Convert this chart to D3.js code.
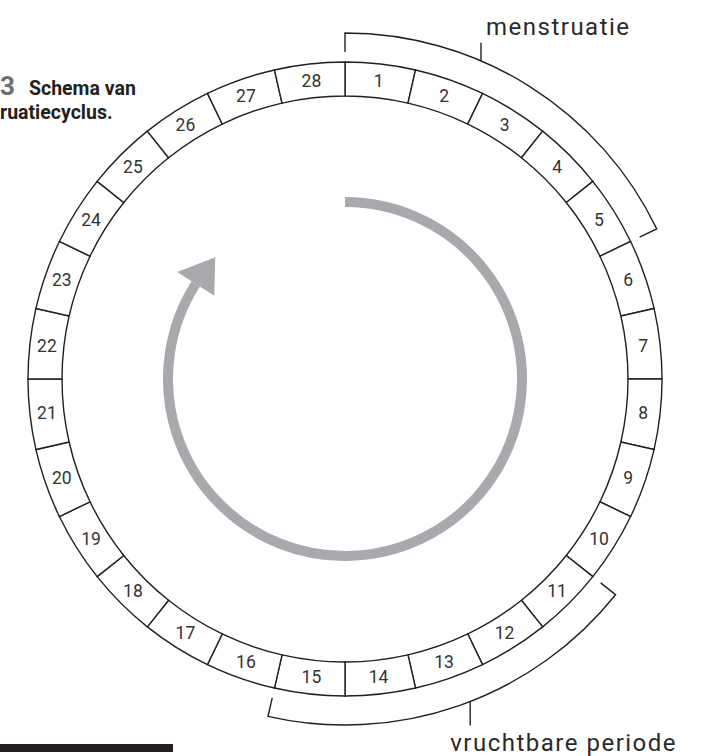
<!DOCTYPE html>
<html>
<head>
<meta charset="utf-8">
<script src="https://cdn.jsdelivr.net/npm/d3@7"></script>
<style>
  body { margin: 0; background: #fff; }
  text { font-family: Roboto, "DejaVu Sans", sans-serif; }
</style>
</head>
<body>
<div id="container"></div>
<script>
/* DATA */
const days = [1, 2, 3, 4, 5, 6, 7, 8, 9, 10, 11, 12, 13, 14,
              15, 16, 17, 18, 19, 20, 21, 22, 23, 24, 25, 26, 27, 28];
const phaseNames = ["menstruatie", "vruchtbare periode"];
const phaseFirstDay = [1, 11];
const phaseLastDay = [5, 15];
const captionNumber = "3";
const captionLines = ["Schema van", "ruatiecyclus."];

/* CONSTANTS AND GLOBALS */
const width = 712, height = 756;
const cx = 345, cy = 379;
const rInner = 283, rOuter = 317;
const rBracket = 346, bracketTick = 19;
const rArrow = 177;
const ink = "#231f20";
const arrowGrey = "#a7a9ac";

// where the pointer of each bracket sits (in day units) and how long it is
const pointerAt = [1.8, 12.35];
const pointerLen = [-18, 24];

const angle = d3.scaleLinear()
  .domain([0, days.length])
  .range([0, 2 * Math.PI]);

const polar = (r, a) => [cx + r * Math.sin(a), cy - r * Math.cos(a)];

/* HTML ELEMENTS */
const svg = d3.select("#container")
  .append("svg")
  .attr("width", width)
  .attr("height", height);

// ring of days
const ring = d3.arc()
  .innerRadius(rInner)
  .outerRadius(rOuter)
  .startAngle(d => angle(d - 1))
  .endAngle(d => angle(d));

const g = svg.append("g").attr("transform", `translate(${cx},${cy})`);

g.selectAll("path.day")
  .data(days)
  .join("path")
  .attr("class", "day")
  .attr("d", ring)
  .attr("fill", "#fff")
  .attr("stroke", ink)
  .attr("stroke-width", 1.4);

g.selectAll("text.day")
  .data(days)
  .join("text")
  .attr("class", "day")
  .attr("x", d => ring.centroid(d)[0])
  .attr("y", d => ring.centroid(d)[1])
  .attr("dy", "0.36em")
  .attr("text-anchor", "middle")
  .attr("font-size", 17.5)
  .attr("fill", "#333")
  .text(d => d);

// brackets for the phases
phaseNames.forEach((name, i) => {
  const a0 = angle(phaseFirstDay[i] - 1), a1 = angle(phaseLastDay[i]);
  const p = d3.path();
  const s0 = polar(rBracket - bracketTick, a0);
  p.moveTo(s0[0], s0[1]);
  const s1 = polar(rBracket, a0);
  p.lineTo(s1[0], s1[1]);
  p.arc(cx, cy, rBracket, a0 - Math.PI / 2, a1 - Math.PI / 2);
  const e1 = polar(rBracket - bracketTick, a1);
  p.lineTo(e1[0], e1[1]);
  svg.append("path")
    .attr("d", p.toString())
    .attr("fill", "none")
    .attr("stroke", ink)
    .attr("stroke-width", 1.4);

  const [px, py] = polar(rBracket, angle(pointerAt[i]));
  svg.append("line")
    .attr("x1", px).attr("y1", py)
    .attr("x2", px).attr("y2", py + pointerLen[i])
    .attr("stroke", ink)
    .attr("stroke-width", 1.4);

  svg.append("text")
    .attr("x", i === 0 ? px + 5 : px - 20)
    .attr("y", i === 0 ? 35 : 751)
    .attr("font-size", 24)
    .attr("letter-spacing", 1.5)
    .attr("fill", "#2a2a2a")
    .text(name);
});

// cycle arrow
const arrowEnd = 302.5 * Math.PI / 180;
const ap = d3.path();
const aStart = polar(rArrow, 0);
ap.moveTo(aStart[0], aStart[1]);
ap.arc(cx, cy, rArrow, -Math.PI / 2, arrowEnd - Math.PI / 2);
svg.append("path")
  .attr("d", ap.toString())
  .attr("fill", "none")
  .attr("stroke", arrowGrey)
  .attr("stroke-width", 10);

const head = [polar(199, arrowEnd), polar(178, 313.2 * Math.PI / 180), polar(155, arrowEnd)];
svg.append("path")
  .attr("d", d3.line()(head) + "Z")
  .attr("fill", arrowGrey);

// caption (cut off at the left edge)
const cap = svg.append("text")
  .attr("x", 0)
  .attr("y", 95)
  .attr("font-weight", "bold")
  .attr("fill", ink);
cap.append("tspan")
  .attr("font-size", 26)
  .attr("fill", "#6d6e71")
  .text(captionNumber);
cap.append("tspan")
  .attr("x", 29)
  .attr("font-size", 19.5)
  .text(captionLines[0]);

svg.append("text")
  .attr("x", 0)
  .attr("y", 119)
  .attr("font-weight", "bold")
  .attr("font-size", 19.5)
  .attr("fill", ink)
  .text(captionLines[1]);

// black rule at the bottom left
svg.append("rect")
  .attr("x", 0).attr("y", 744)
  .attr("width", 173).attr("height", 8)
  .attr("fill", ink);
</script>
</body>
</html>
